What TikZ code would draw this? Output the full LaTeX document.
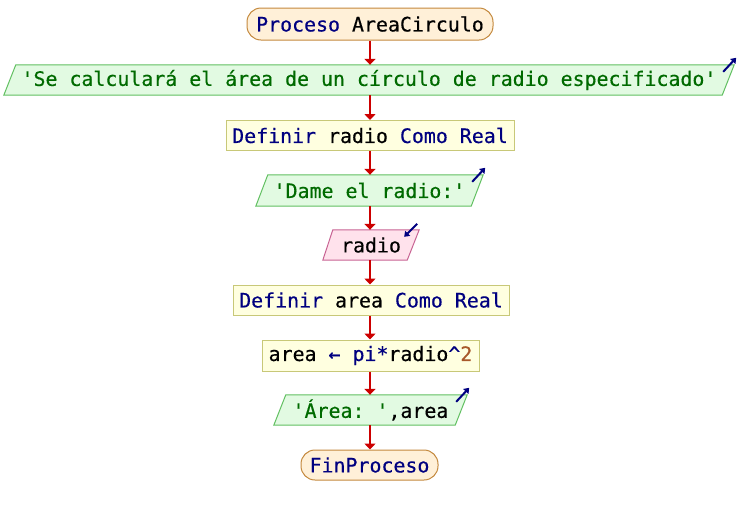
\documentclass[tikz,border=0pt]{standalone}
\usepackage{fontspec}
\setmonofont[FakeBold=0.4]{DejaVu Sans Mono}
\usetikzlibrary{arrows.meta,calc,backgrounds}
\definecolor{kw}{HTML}{000080}
\definecolor{strc}{HTML}{006A00}
\definecolor{numc}{HTML}{A8582A}
\definecolor{termfill}{HTML}{FFF0D8}
\definecolor{termline}{HTML}{C4893E}
\definecolor{outfill}{HTML}{E2FAE2}
\definecolor{outline}{HTML}{62C062}
\definecolor{deffill}{HTML}{FFFFE0}
\definecolor{defline}{HTML}{C8C878}
\definecolor{infill}{HTML}{FFE2EC}
\definecolor{inline}{HTML}{C86494}
\definecolor{flow}{HTML}{CC0000}
\begin{document}
\begin{tikzpicture}[x=1pt,y=-1pt,
  font=\ttfamily\fontsize{19.9}{23}\selectfont,
  base/.style={inner sep=0pt, minimum height=30pt},
  term/.style={base, draw=termline, fill=termfill, line width=1pt, rounded corners=14pt},
  defbox/.style={base, draw=defline, fill=deffill, line width=1pt},
  iobox/.style={base},
  outshape/.style={draw=outline, fill=outfill, line width=1pt},
  inshape/.style={draw=inline, fill=infill, line width=1pt},
  flowline/.style={draw=flow, line width=2pt, -{Triangle[length=6pt,width=11pt]}},
  note/.style={draw=kw, line width=2pt, -{Triangle[length=5pt,width=7pt]}}]
\useasboundingbox (0,0) rectangle (740,515);

% steps of the algorithm
\node[term, minimum width=246pt, minimum height=32pt] (start) at (370,24)
  {\textcolor{kw}{Proceso} AreaCirculo};
\node[iobox, minimum width=730pt] (o1) at (369,80)
  {\textcolor{strc}{'Se calculará el área de un círculo de radio especificado'}};
\node[defbox, minimum width=288pt] (d1) at (370,135.5)
  {\textcolor{kw}{Definir} radio \textcolor{kw}{Como Real}};
\node[iobox, minimum width=227pt, minimum height=31pt] (o2) at (369.5,190.5)
  {\textcolor{strc}{'Dame el radio:'}};
\node[iobox, minimum width=96pt] (in) at (371,245) {radio};
\node[defbox, minimum width=276pt] (d2) at (371,300)
  {\textcolor{kw}{Definir} area \textcolor{kw}{Como Real}};
\node[defbox, minimum width=217pt, minimum height=31pt] (as) at (370.5,355.5)
  {area \textcolor{kw}{←} \textcolor{kw}{pi*}radio\textcolor{kw}{\^{}}\textcolor{numc}{2}};
\node[iobox, minimum width=193pt] (o3) at (370.5,410)
  {\textcolor{strc}{'Área: '},area};
\node[term, minimum width=137pt] (end) at (369.5,465)
  {\textcolor{kw}{FinProceso}};

% slanted input/output shapes
\begin{scope}[on background layer]
  \foreach \n in {o1,o2,o3}{
    \path[outshape] ($(\n.north west)+(12,0)$) -- (\n.north east)
      -- ($(\n.south east)+(-12,0)$) -- (\n.south west) -- cycle;
  }
  \path[inshape] ($(in.north west)+(10,0)$) -- (in.north east)
    -- ($(in.south east)+(-12,0)$) -- (in.south west) -- cycle;
\end{scope}

% output / input markers
\foreach \n in {o1,o2,o3}{
  \draw[note] ($(\n.north east)+(-11,7)$) -- ($(\n.north east)+(2,-7)$);
}
\draw[note] ($(in.north east)+(-2,-6)$) -- ($(in.north east)+(-15,7)$);

% flow
\draw[flowline] (start.south) -- (start.south |- o1.north);
\draw[flowline] (start.south |- o1.south) -- (start.south |- d1.north);
\draw[flowline] (d1.south) -- (d1.south |- o2.north);
\draw[flowline] (d1.south |- o2.south) -- (d1.south |- in.north);
\draw[flowline] (d1.south |- in.south) -- (d1.south |- d2.north);
\draw[flowline] (d1.south |- d2.south) -- (d1.south |- as.north);
\draw[flowline] (d1.south |- as.south) -- (d1.south |- o3.north);
\draw[flowline] (d1.south |- o3.south) -- (d1.south |- end.north);
\end{tikzpicture}
\end{document}
